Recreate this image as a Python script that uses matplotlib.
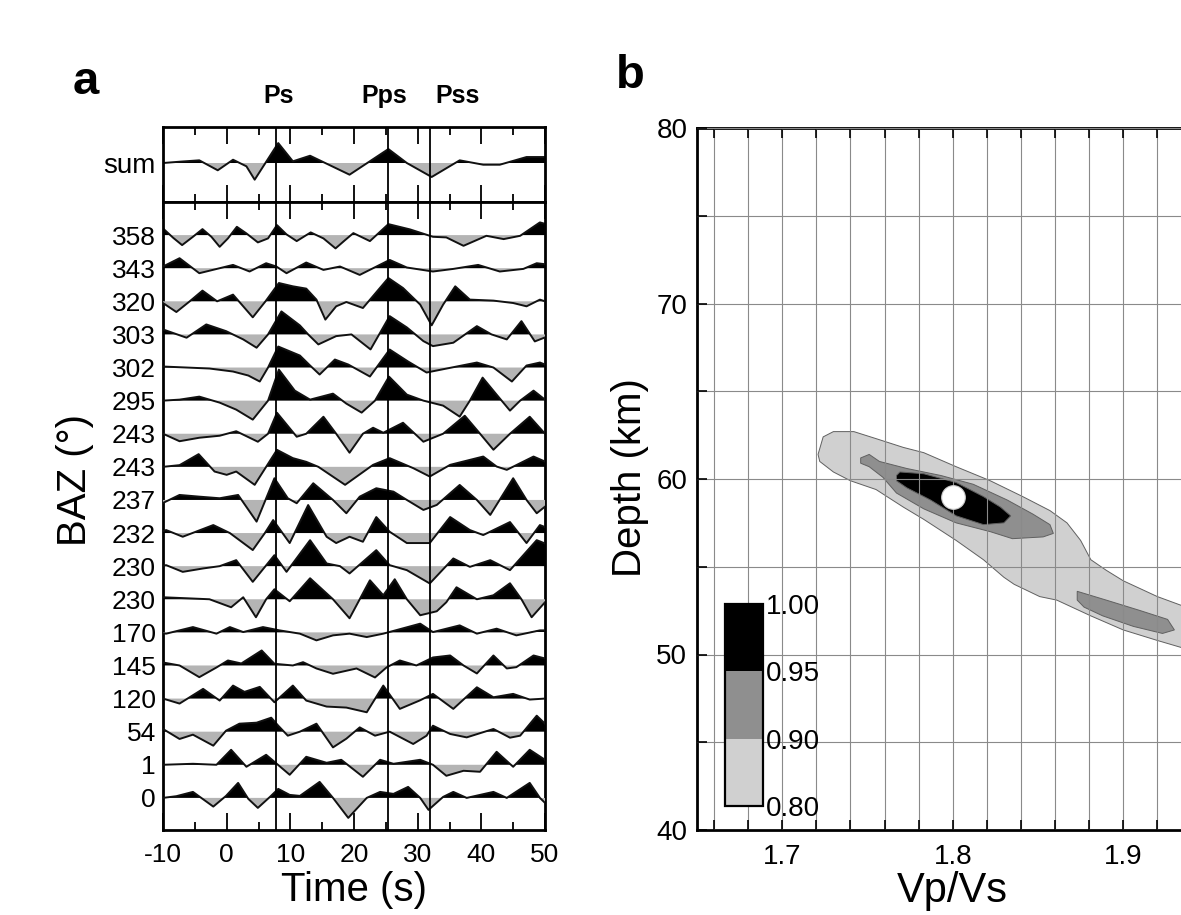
"""Receiver functions by back azimuth (a) and H-k stack of the same station (b)."""

import matplotlib

matplotlib.use("Agg")

import matplotlib.pyplot as plt
import numpy as np
from matplotlib.cm import ScalarMappable
from matplotlib.colors import BoundaryNorm, ListedColormap
from matplotlib.ticker import MultipleLocator
from matplotlib.transforms import blended_transform_factory

plt.rcParams["font.family"] = ["Liberation Sans", "DejaVu Sans"]
plt.rcParams["axes.unicode_minus"] = False

# ---- panel a: radial receiver functions, (time s, amplitude) picked off the record
BAZ = ["358", "343", "320", "303", "302", "295", "243", "243", "237",
       "232", "230", "230", "170", "145", "120", "54", "1", "0"]

RF_SUM = [(-10.0, 0.0), (-7.0, 1.5), (-4.3, 2.7), (-1.4, -7.3), (1.0, 3.3),
          (3.1, -3.3), (4.4, -16.7), (8.1, 20.0), (10.4, 1.7), (13.1, 7.3),
          (19.3, -11.7), (25.4, 14.0), (28.3, 0.0), (32.2, -14.0), (36.6, 2.7),
          (40.3, -1.7), (42.9, -1.7), (47.1, 6.0), (50.0, 6.0)]

RF_358 = [(-10.0, 6.7), (-8.4, -2.7), (-7.0, -10.0), (-5.3, -1.7), (-3.8, 6.0),
          (-2.4, -1.7), (-1.1, -11.7), (0.2, -3.3), (1.6, 8.3), (3.1, 1.7),
          (4.9, -7.3), (6.5, -3.3), (7.9, 10.0), (9.4, 0.7), (11.0, -6.0),
          (13.2, 2.7), (15.2, -3.3), (17.1, -13.3), (18.6, -5.0), (19.9, 2.0),
          (22.5, -6.0), (25.4, 11.0), (28.8, 5.7), (32.4, -1.7), (34.5, -2.3),
          (37.2, -10.7), (40.8, -0.7), (43.5, -4.0), (46.1, -0.7), (49.2, 12.7),
          (50.0, 11.3)]
RF_343 = [(-10.0, 1.7), (-7.4, 10.0), (-4.3, -5.0), (-1.1, 0.0), (1.0, 3.3),
          (3.6, -3.3), (6.2, 5.0), (7.8, 1.7), (9.4, -5.0), (12.5, 5.7),
          (15.2, -1.7), (17.8, 1.7), (20.9, -6.7), (25.6, 8.3), (28.3, 0.7),
          (32.4, -3.3), (35.6, -0.7), (39.5, 3.3), (42.9, -3.3), (46.6, -0.7),
          (48.7, 5.0), (50.0, 4.0)]
RF_320 = [(-10.0, -1.7), (-7.9, -10.7), (-5.8, 0.0), (-3.8, 10.7), (-1.5, 0.0),
          (1.0, 6.7), (4.1, -16.0), (6.1, 0.0), (8.2, 18.3), (10.4, 15.0),
          (12.5, 12.7), (14.1, 1.7), (15.5, -18.3), (17.2, -5.0), (18.8, -0.7),
          (21.4, -6.7), (25.4, 23.3), (27.7, 13.3), (30.4, -3.3), (32.2, -24.0),
          (34.0, -3.3), (35.9, 15.0), (38.2, 1.7), (41.9, 0.7), (45.0, -1.7),
          (47.1, -5.0), (49.2, 1.7), (50.0, 0.0)]
RF_303 = [(-10.0, 5.0), (-6.3, -3.3), (-3.2, 10.0), (-0.1, 3.3), (2.6, -5.0),
          (4.7, -13.3), (6.5, 0.0), (8.6, 23.0), (11.5, 9.0), (12.8, 0.0),
          (14.4, -10.0), (17.2, -1.7), (19.6, 0.0), (22.6, -15.0), (25.6, 18.3),
          (28.3, 7.0), (30.9, -6.7), (32.4, -11.7), (35.6, -8.3), (39.3, 8.3),
          (41.6, 0.0), (44.0, -5.0), (46.3, 13.3), (48.4, -7.0), (50.0, -3.0)]
RF_302 = [(-10.0, 1.0), (-6.3, 0.0), (-2.7, -1.0), (1.0, -4.0), (3.4, -8.0),
          (5.2, -14.0), (6.5, 0.0), (8.1, 21.0), (11.5, 12.0), (13.1, 2.0),
          (14.6, -7.0), (17.0, 8.0), (19.1, 3.0), (22.5, -9.0), (25.6, 18.0),
          (28.5, 6.0), (31.4, -5.0), (34.0, -1.7), (39.3, 5.0), (41.9, 0.0),
          (44.8, -14.0), (47.1, 2.0), (49.2, 5.0), (50.0, 3.0)]
RF_295 = [(-10.0, 0.0), (-7.4, 1.0), (-4.3, 4.0), (-1.1, -2.0), (1.5, -9.0),
          (4.1, -19.0), (6.5, 0.0), (8.2, 31.0), (10.7, 10.0), (13.1, 1.0),
          (16.7, 7.0), (18.8, -3.0), (21.2, -12.0), (23.3, 0.0), (25.5, 24.0),
          (28.3, 6.0), (30.9, 0.0), (34.0, -5.0), (36.6, -16.0), (38.2, 0.0),
          (40.2, 23.0), (42.4, 6.0), (44.5, -10.0), (46.1, 0.0), (48.2, 10.0),
          (50.0, 1.0)]
RF_243A = [(-10.0, 0.0), (-7.4, -7.5), (-4.3, -4.0), (-1.1, -2.0), (1.5, 2.5),
           (4.9, -8.0), (6.5, 0.0), (7.9, 21.0), (11.0, -3.0), (12.5, 0.0),
           (15.2, 17.0), (17.2, 0.0), (19.3, -19.0), (21.4, 0.0), (23.0, 6.0),
           (24.6, 1.0), (27.7, 11.0), (30.9, -8.0), (34.0, 0.0), (37.4, 18.0),
           (39.8, 0.0), (41.9, -16.0), (44.5, 0.0), (47.6, 17.0), (50.0, 0.0)]
RF_243B = [(-10.0, 0.0), (-7.4, 1.7), (-4.4, 12.7), (-1.9, -4.7), (0.0, -8.0),
           (1.5, -4.7), (4.4, -18.0), (6.2, 0.0), (7.9, 17.0), (10.4, 8.7),
           (12.5, 5.0), (14.4, 0.0), (18.6, -18.0), (23.0, 2.0), (25.6, 8.7),
           (29.3, -1.3), (31.9, -9.7), (35.1, 2.0), (40.3, 10.3), (42.4, 0.3),
           (44.0, -3.0), (48.2, 10.3), (50.0, 5.3)]
RF_237 = [(-10.0, -3.0), (-7.4, 5.0), (-4.3, 3.3), (-1.1, 1.7), (1.8, 5.0),
          (4.7, -21.7), (6.1, 0.0), (7.5, 21.7), (9.6, 1.7), (11.0, -3.3),
          (13.6, 16.7), (16.7, 0.0), (18.8, -13.3), (20.9, 3.3), (23.5, 11.7),
          (26.2, 8.3), (28.3, 0.0), (30.9, -10.0), (33.0, -5.0), (36.6, 15.0),
          (39.3, 0.0), (41.4, -15.0), (45.0, 21.7), (47.1, 0.0), (48.7, -13.3),
          (50.0, -6.7)]
RF_232 = [(-10.0, 2.0), (-9.5, 3.0), (-6.9, -3.7), (-2.1, 8.0), (0.5, 0.0),
          (4.1, -17.0), (6.0, 0.0), (7.3, 13.0), (9.9, -10.0), (12.8, 28.0),
          (15.7, -3.7), (17.2, -10.0), (19.3, -3.7), (21.4, -8.7), (23.5, 16.0),
          (25.6, 1.3), (28.3, -10.0), (31.9, -10.0), (35.1, 16.0), (38.2, 3.0),
          (40.3, -2.0), (44.5, 11.0), (47.1, -10.0), (49.2, 8.0), (50.0, 6.0)]
RF_230A = [(-10.0, 0.5), (-9.5, 1.0), (-6.9, -5.7), (-3.7, -2.3), (-1.1, 0.0),
           (1.5, 6.0), (4.1, -15.7), (7.5, 11.0), (9.4, -5.7), (13.1, 26.0),
           (15.7, 2.7), (17.8, 0.0), (19.3, -7.3), (23.5, 16.0), (25.6, 1.0),
           (28.3, -4.0), (31.9, -17.3), (35.6, 7.7), (38.2, -0.7), (41.4, 6.0),
           (44.5, -4.0), (48.7, 26.0), (50.0, 22.7)]
RF_230B = [(-10.0, 2.0), (-6.3, 1.0), (-2.7, 0.0), (0.7, -8.0), (2.6, 2.0),
           (4.6, -18.0), (6.2, 0.0), (7.5, 10.0), (9.9, -2.0), (13.1, 21.0),
           (16.7, 0.0), (19.3, -19.0), (22.5, 19.0), (24.6, 4.0), (26.4, 20.0),
           (28.3, 0.0), (30.4, -16.0), (33.0, -12.0), (34.5, -3.0), (36.1, 12.0),
           (39.3, 0.0), (41.9, 4.0), (44.5, 16.0), (46.3, 0.0), (47.9, -18.0),
           (50.0, -3.0)]
RF_170 = [(-10.0, -1.0), (-9.5, -1.3), (-5.3, 5.3), (-1.6, -1.3), (0.5, 5.3),
          (2.6, 0.3), (5.7, 5.3), (8.3, 2.0), (11.5, -1.3), (14.1, -8.0),
          (16.7, -3.0), (19.3, -1.3), (22.0, -4.7), (24.6, -1.3), (30.4, 8.7),
          (32.4, 0.3), (36.6, 7.0), (39.3, -1.3), (42.4, 3.7), (45.5, -3.0),
          (49.2, 2.0), (50.0, 2.0)]
RF_145 = [(-10.0, 3.0), (-7.4, 0.0), (-4.3, -11.7), (-1.6, -2.0), (0.2, 5.0),
          (2.3, 2.0), (5.5, 15.0), (7.5, 1.7), (10.4, 0.0), (12.0, 3.3),
          (14.1, -3.0), (16.7, -8.3), (20.4, -3.0), (23.3, -12.0), (25.1, -2.0),
          (27.2, 5.0), (29.8, 0.0), (32.4, 8.0), (35.1, 10.0), (37.2, 0.0),
          (39.3, -8.0), (41.9, 10.0), (44.0, -3.0), (45.5, -1.7), (48.2, 10.0),
          (50.0, 7.0)]
RF_120 = [(-10.0, 0.0), (-7.4, -5.0), (-3.7, 9.7), (-1.1, -2.0), (1.0, 13.0),
          (2.8, 6.7), (5.2, 11.7), (7.5, -3.7), (10.4, 13.0), (12.5, -2.0),
          (15.7, -8.0), (18.8, -9.0), (22.0, -13.7), (24.6, 13.0), (27.2, -10.3),
          (30.4, -1.7), (32.4, 4.7), (35.6, -10.3), (39.3, 11.3), (41.9, 1.3),
          (45.0, 4.7), (47.6, -1.0), (50.0, 0.0)]
RF_54 = [(-10.0, 2.7), (-7.4, -7.3), (-5.3, -3.0), (-2.1, -14.0), (-0.1, 1.0),
         (2.0, 8.0), (4.7, 9.0), (7.0, 14.0), (8.1, 6.0), (9.6, -4.0),
         (11.5, 0.0), (14.1, 8.0), (16.7, -15.7), (18.8, -7.0), (20.9, 4.3),
         (23.3, -4.0), (25.6, 0.0), (29.3, -12.3), (31.4, -4.0), (32.4, 6.0),
         (35.1, -2.3), (37.7, -5.7), (41.9, 2.7), (44.5, -6.0), (46.1, -4.0),
         (48.7, 16.0), (50.0, 8.0)]
RF_1 = [(-10.0, 0.0), (-5.3, 1.0), (-1.6, 0.0), (0.7, 15.0), (3.1, -2.0),
        (6.2, 10.0), (7.5, 3.0), (9.9, -10.0), (12.5, 8.0), (15.7, 2.0),
        (18.0, 5.0), (21.4, -12.0), (24.1, 5.0), (26.2, 1.0), (30.4, 5.0),
        (32.4, 0.0), (34.5, -11.0), (37.2, -6.0), (39.8, -7.0), (42.4, 13.0),
        (45.0, -2.0), (47.6, 15.0), (50.0, 5.0)]
RF_0 = [(-10.0, 0.0), (-7.9, 1.7), (-5.3, 6.0), (-2.1, -8.7), (-0.1, 2.0),
        (1.8, 15.0), (3.4, -1.0), (4.9, -10.0), (6.8, 1.0), (8.1, 9.0),
        (9.9, 3.0), (11.5, 2.0), (14.6, 16.0), (16.7, 0.0), (19.1, -20.0),
        (22.0, 0.0), (24.1, 6.0), (26.2, 4.0), (28.5, 11.0), (30.4, 0.0),
        (31.7, -12.0), (34.0, 1.0), (35.6, 6.0), (37.7, 0.0), (41.9, 6.0),
        (44.0, 0.0), (47.6, 15.0), (49.2, 0.0), (50.0, -5.0)]

RF_TRACES = [RF_358, RF_343, RF_320, RF_303, RF_302, RF_295, RF_243A, RF_243B,
             RF_237, RF_232, RF_230A, RF_230B, RF_170, RF_145, RF_120, RF_54,
             RF_1, RF_0]

PHASES = ["Ps", "Pps", "Pss"]
PHASE_T = [7.8, 25.3, 32.0]          # predicted arrival lines (s)
PHASE_LABEL_T = [8.2, 24.8, 36.2]    # where the labels sit

# ---- panel b: H-k stack, contour outlines (Vp/Vs, depth km)
STACK_LEVELS = [0.80, 0.90, 0.95, 1.00]
STACK_COLORS = ["#d0d0d0", "#8f8f8f", "black"]
CONTOUR_080 = [(1.721, 61.4), (1.724, 62.4), (1.730, 62.7), (1.742, 62.7),
               (1.755, 62.3), (1.771, 61.8), (1.783, 61.5), (1.802, 60.7),
               (1.822, 59.9), (1.841, 59.0), (1.857, 58.2), (1.867, 57.5),
               (1.875, 56.5), (1.881, 55.4), (1.890, 54.8), (1.900, 54.2),
               (1.920, 53.3), (1.934, 52.8), (1.960, 52.0), (1.960, 49.8),
               (1.934, 50.4), (1.920, 50.8), (1.900, 51.4), (1.881, 52.2),
               (1.861, 53.1), (1.851, 53.3), (1.836, 54.0), (1.830, 54.4),
               (1.818, 55.4), (1.802, 56.5), (1.783, 57.7), (1.771, 58.4),
               (1.755, 59.4), (1.740, 59.9), (1.730, 60.4), (1.722, 61.0)]
CONTOUR_090_A = [(1.746, 61.2), (1.751, 61.4), (1.757, 61.0), (1.773, 60.6),
                 (1.793, 60.2), (1.812, 59.7), (1.832, 58.8), (1.847, 58.0),
                 (1.857, 57.4), (1.859, 56.9), (1.853, 56.7), (1.835, 56.6),
                 (1.822, 57.0), (1.802, 57.5), (1.783, 58.3), (1.767, 59.2),
                 (1.759, 60.1), (1.751, 60.7), (1.746, 60.9)]
CONTOUR_090_B = [(1.873, 53.6), (1.890, 53.1), (1.910, 52.5), (1.926, 52.0),
                 (1.930, 51.4), (1.923, 51.2), (1.906, 51.6), (1.888, 52.2),
                 (1.877, 52.7), (1.873, 53.1)]
CONTOUR_095 = [(1.767, 60.2), (1.769, 60.4), (1.783, 60.3), (1.802, 59.8),
               (1.818, 59.0), (1.828, 58.4), (1.834, 57.9), (1.830, 57.5),
               (1.818, 57.4), (1.802, 57.9), (1.787, 58.8), (1.773, 59.5),
               (1.767, 59.9)]
BEST_K, BEST_H = 1.80, 59.0

W, H = 1181, 915
GAIN = 1 / 33.1       # amplitude units -> trace spacing
NEG_GRAY = "#b4b4b4"
FS_TICK = 18
FS_LABEL = 28


def px_box(x0, y0, x1, y1):
    """figure-fraction rect from pixel corners (top-left origin)."""
    return [x0 / W, 1 - y1 / H, (x1 - x0) / W, (y1 - y0) / H]


def draw_rf(ax, pts, base, z):
    t, a = np.array(pts).T
    y = base + a * GAIN
    ax.fill_between(t, base, y, where=a > 0, interpolate=True,
                    color="black", lw=0, zorder=z)
    ax.fill_between(t, base, y, where=a < 0, interpolate=True,
                    color=NEG_GRAY, lw=0, zorder=z)
    ax.plot(t, y, color="#111111", lw=1.4, zorder=z + 0.5,
            solid_joinstyle="round")


def style_time_axis(ax):
    ax.set_xlim(-10, 50)
    ax.xaxis.set_major_locator(MultipleLocator(10))
    ax.xaxis.set_minor_locator(MultipleLocator(5))
    ax.tick_params(axis="x", which="major", direction="in", top=True,
                   length=12, width=1.3, labelsize=FS_TICK + 1, pad=9)
    ax.tick_params(axis="x", which="minor", direction="in", top=True,
                   length=6, width=1.3)
    for s in ax.spines.values():
        s.set_linewidth(2)
    for t in PHASE_T:
        ax.axvline(t, color="black", lw=1.3, zorder=50)


fig = plt.figure(figsize=(W / 100, H / 100), dpi=100)

# ---------------- panel a
ax_sum = fig.add_axes(px_box(163, 127, 545, 202))
ax_rf = fig.add_axes(px_box(163, 202, 545, 830))

draw_rf(ax_sum, RF_SUM, 0.0, 2)
ax_sum.set_ylim(-1.18, 1.09)
style_time_axis(ax_sum)
ax_sum.tick_params(axis="x", labelbottom=False)
ax_sum.set_yticks([0], ["sum"])
ax_sum.tick_params(axis="y", length=0, labelsize=FS_TICK + 2, pad=5)

n = len(RF_TRACES)
for k, pts in enumerate(RF_TRACES):
    draw_rf(ax_rf, pts, n - 1 - k, 2 + k)
ax_rf.set_ylim(-0.97, n)
style_time_axis(ax_rf)
ax_rf.set_yticks(range(n - 1, -1, -1), BAZ)
ax_rf.tick_params(axis="y", length=0, labelsize=FS_TICK + 1, pad=5)

tr = blended_transform_factory(ax_sum.transData, fig.transFigure)
for name, t in zip(PHASES, PHASE_LABEL_T):
    ax_sum.text(t, 1 - 96 / H, name, transform=tr, ha="center", va="center",
                fontsize=18, fontweight="bold")

fig.text(354 / W, 1 - 890 / H, "Time (s)", ha="center", va="center",
         fontsize=FS_LABEL + 1)
fig.text(75 / W, 1 - 480 / H, "BAZ (°)", ha="center", va="center",
         rotation=90, fontsize=FS_LABEL + 1)
fig.text(86 / W, 1 - 82 / H, "a", ha="center", va="center", fontsize=34,
         fontweight="bold")
fig.text(630 / W, 1 - 76 / H, "b", ha="center", va="center", fontsize=34,
         fontweight="bold")

# ---------------- panel b
ax_hk = fig.add_axes(px_box(697, 128, 697 + 0.30 * 1705, 830))
ax_hk.set_xlim(1.65, 1.95)
ax_hk.set_ylim(40, 80)
regions = [(CONTOUR_080, 0), (CONTOUR_090_A, 1), (CONTOUR_090_B, 1),
           (CONTOUR_095, 2)]
for poly, lev in regions:
    k, d = np.array(poly).T
    ax_hk.fill(k, d, facecolor=STACK_COLORS[lev], edgecolor="#606060",
               lw=0.7, zorder=1 + lev * 0.1)
ax_hk.plot(BEST_K, BEST_H, "o", ms=17, mfc="white", mec="#cccccc", mew=0.8,
           zorder=6)

ax_hk.xaxis.set_major_locator(MultipleLocator(0.1))
ax_hk.xaxis.set_minor_locator(MultipleLocator(0.02))
ax_hk.yaxis.set_major_locator(MultipleLocator(10))
ax_hk.yaxis.set_minor_locator(MultipleLocator(5))
ax_hk.set_axisbelow(False)
ax_hk.grid(which="both", color="#8a8a8a", lw=0.8)
ax_hk.tick_params(which="both", direction="in", top=True, right=True,
                  length=7, width=1.2, labelsize=FS_TICK + 2)
ax_hk.tick_params(axis="x", pad=10)
ax_hk.tick_params(axis="y", pad=7)
for s in ax_hk.spines.values():
    s.set_linewidth(2)

fig.text(952 / W, 1 - 891 / H, "Vp/Vs", ha="center", va="center",
         fontsize=30)
fig.text(630 / W, 1 - 478 / H, "Depth (km)", ha="center", va="center",
         rotation=90, fontsize=FS_LABEL + 1)

cax = fig.add_axes(px_box(725, 604, 763, 806))
sm = ScalarMappable(norm=BoundaryNorm(STACK_LEVELS, len(STACK_COLORS)),
                    cmap=ListedColormap(STACK_COLORS))
cb = fig.colorbar(sm, cax=cax, spacing="uniform", ticks=STACK_LEVELS)
cb.ax.set_yticklabels([f"{v:.2f}" for v in STACK_LEVELS])
cb.ax.tick_params(length=0, labelsize=FS_TICK + 2, pad=2)
cb.outline.set_linewidth(1.6)

fig.savefig("out.png", dpi=100)
